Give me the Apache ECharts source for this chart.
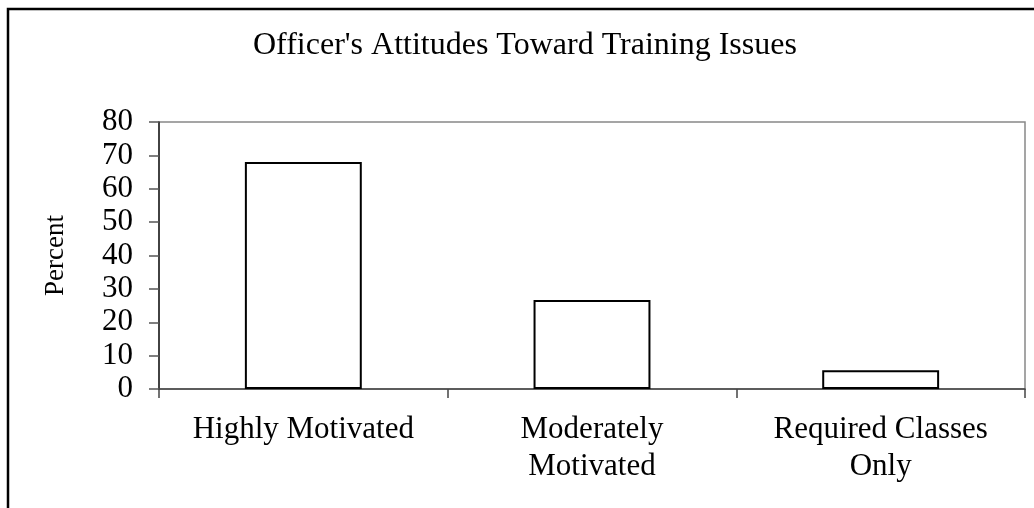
<!DOCTYPE html>
<html>
<head>
<meta charset="utf-8">
<script src="https://cdn.jsdelivr.net/npm/echarts@6/dist/echarts.min.js"></script>
<style>
  html, body { margin: 0; padding: 0; background: #fff; }
  #chart { width: 1034px; height: 508px; }
</style>
</head>
<body>
<div id="chart"></div>
<script>
// categories and values
var categories = ['Highly Motivated', 'Moderately\nMotivated', 'Required Classes\nOnly'];
var percents = [68, 26.7, 5.6];
var yMin = 0, yMax = 80, yStep = 10;

var serif = '"Liberation Serif", "Times New Roman", serif';

var chart = echarts.init(document.getElementById('chart'));
var option = {
    backgroundColor: '#fff',
    animation: false,
    title: {
        text: "Officer's Attitudes Toward Training Issues",
        left: 253,
        top: 30,
        padding: 0,
        textStyle: { fontFamily: serif, fontSize: 32, fontWeight: 'normal', color: '#000' }
    },
    // outer frame, only left and top edges fall inside the picture
    graphic: [{
        type: 'rect',
        shape: { x: 8, y: 9, width: 1200, height: 700 },
        style: { fill: 'none', stroke: '#000', lineWidth: 2.5 },
        silent: true
    }],
    grid: {
        left: 159,
        right: 9,
        top: 122,
        bottom: 119,
        show: true,
        borderColor: '#888',
        borderWidth: 1.5
    },
    xAxis: {
        type: 'category',
        data: categories,
        axisLine: { lineStyle: { color: '#444', width: 1.5 } },
        axisTick: { show: true, length: 9, inside: false, lineStyle: { color: '#444', width: 1.5 } },
        axisLabel: {
            margin: 22,
            fontFamily: serif,
            fontSize: 31,
            lineHeight: 37,
            color: '#000',
            interval: 0
        },
        splitLine: { show: false }
    },
    yAxis: {
        type: 'value',
        min: yMin,
        max: yMax,
        interval: yStep,
        name: 'Percent',
        nameLocation: 'middle',
        nameGap: 90,
        nameTextStyle: { fontFamily: serif, fontSize: 27, color: '#000' },
        axisLine: { show: true, lineStyle: { color: '#222', width: 1.5 } },
        axisTick: { show: true, length: 10, inside: false, lineStyle: { color: '#555', width: 1.5 } },
        axisLabel: { margin: 26, fontFamily: serif, fontSize: 31, color: '#000' },
        splitLine: { show: false }
    },
    series: [{
        type: 'bar',
        data: percents,
        barWidth: '40.5%',
        itemStyle: { color: '#fff', borderColor: '#000', borderWidth: 2 }
    }]
};
chart.setOption(option);
</script>
</body>
</html>
